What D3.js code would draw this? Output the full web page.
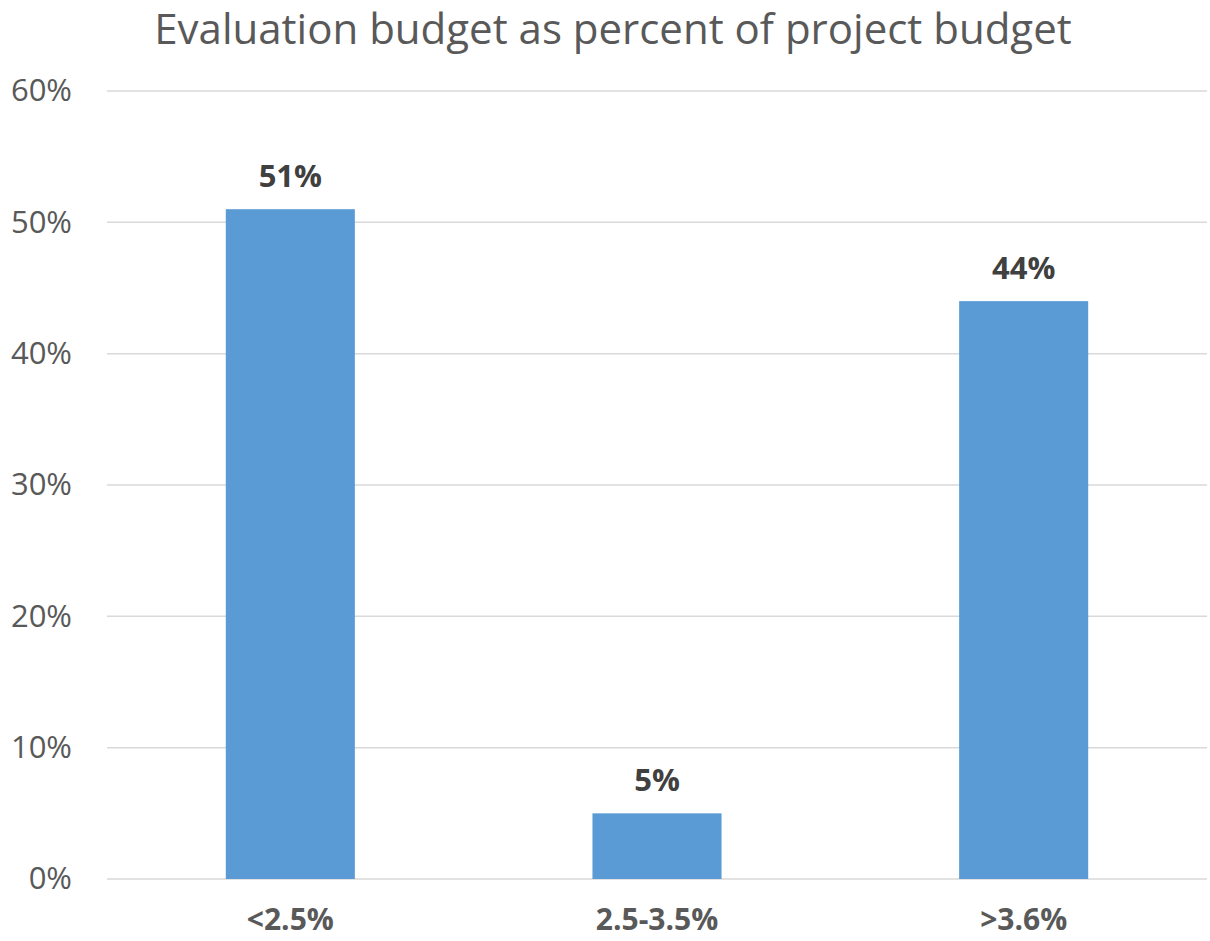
<!DOCTYPE html>
<html>
<head>
<meta charset="utf-8">
<script src="https://cdn.jsdelivr.net/npm/d3@7"></script>
<style>
  body { margin: 0; background: #fff; }
  text { font-family: "Open Sans", "Noto Sans", sans-serif; }
</style>
</head>
<body>
<script>
// chart data
var categories = ["<2.5%", "2.5-3.5%", ">3.6%"];
var values = [0.51, 0.05, 0.44];
var yTicks = [0, 0.1, 0.2, 0.3, 0.4, 0.5, 0.6];

var width = 1210,
    height = 941;
var margin = { top: 91, right: 3, bottom: 62, left: 107 };

var svg = d3.select("body").append("svg")
    .attr("width", width)
    .attr("height", height);

var x = d3.scaleBand()
    .domain(categories)
    .range([margin.left, width - margin.right])
    .paddingInner(0.648)
    .paddingOuter(0.324);

var y = d3.scaleLinear()
    .domain([0, 0.6])
    .range([height - margin.bottom, margin.top]);

// title
svg.append("text")
    .attr("x", 613)
    .attr("y", 44)
    .attr("text-anchor", "middle")
    .attr("fill", "#595959")
    .style("font-size", "42px")
    .text("Evaluation budget as percent of project budget");

// gridlines
svg.append("g")
    .selectAll("line")
    .data(yTicks)
    .enter().append("line")
    .attr("x1", margin.left)
    .attr("x2", width - margin.right)
    .attr("y1", function(d) { return y(d); })
    .attr("y2", function(d) { return y(d); })
    .attr("stroke", "#d9d9d9")
    .attr("stroke-width", 1.5);

// y axis labels
var yAxis = d3.axisLeft(y)
    .tickValues(yTicks)
    .tickFormat(d3.format(".0%"))
    .tickSize(0)
    .tickPadding(0);

var yg = svg.append("g")
    .attr("transform", "translate(72,0)")
    .call(yAxis);
yg.select(".domain").remove();
yg.selectAll("text")
    .attr("fill", "#595959")
    .style("font-size", "31px")
    .style("font-family", "'Open Sans', sans-serif");

// bars
svg.append("g")
    .selectAll("rect")
    .data(values)
    .enter().append("rect")
    .attr("x", function(d, i) { return x(categories[i]); })
    .attr("width", x.bandwidth())
    .attr("y", function(d) { return y(d); })
    .attr("height", function(d) { return y(0) - y(d); })
    .attr("fill", "#5b9bd5");

// value labels
svg.append("g")
    .selectAll("text")
    .data(values)
    .enter().append("text")
    .attr("x", function(d, i) { return x(categories[i]) + x.bandwidth() / 2; })
    .attr("y", function(d) { return y(d) - 22; })
    .attr("text-anchor", "middle")
    .attr("fill", "#404040")
    .style("font-size", "31px")
    .style("font-weight", "bold")
    .text(function(d) { return Math.round(d * 100) + "%"; });

// x axis labels
var xAxis = d3.axisBottom(x).tickSize(0).tickPadding(0);
var xg = svg.append("g")
    .attr("transform", "translate(0," + (height - margin.bottom + 24) + ")")
    .call(xAxis);
xg.select(".domain").remove();
xg.selectAll("text")
    .attr("fill", "#595959")
    .attr("dy", "0.9em")
    .style("font-size", "30px")
    .style("font-weight", "bold")
    .style("font-family", "'Open Sans', sans-serif");
</script>
</body>
</html>
